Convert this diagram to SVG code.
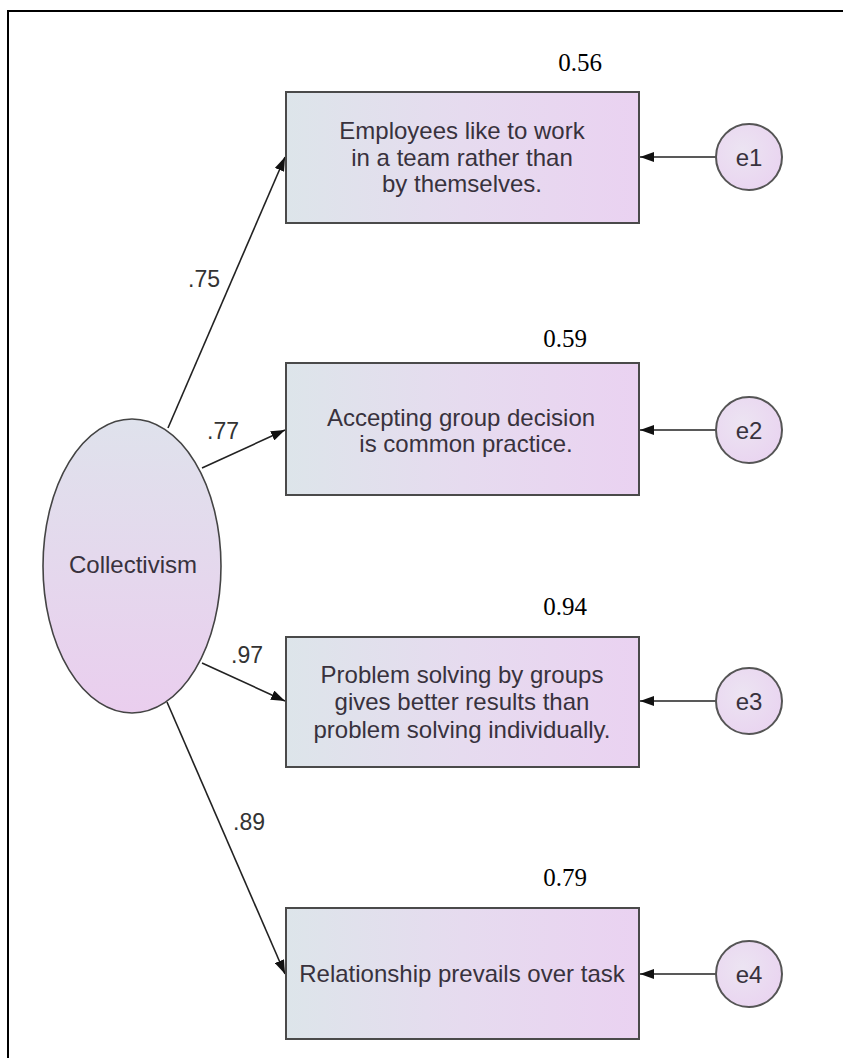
<svg xmlns="http://www.w3.org/2000/svg" width="843" height="1058" viewBox="0 0 843 1058">
  <defs>
    <linearGradient id="boxFill" x1="0" y1="0" x2="1" y2="0">
      <stop offset="0" stop-color="#dde5ea"/>
      <stop offset="0.5" stop-color="#e6dbef"/>
      <stop offset="1" stop-color="#ead2f1"/>
    </linearGradient>
    <linearGradient id="ovalFill" x1="0" y1="0" x2="0" y2="1">
      <stop offset="0" stop-color="#dfe2ec"/>
      <stop offset="1" stop-color="#eaceee"/>
    </linearGradient>
    <radialGradient id="errFill" cx="0.4" cy="0.4" r="0.7">
      <stop offset="0" stop-color="#ece4f2"/>
      <stop offset="1" stop-color="#e9d3f0"/>
    </radialGradient>
    <marker id="arrow" viewBox="0 0 14 10" refX="14" refY="5" markerWidth="14" markerHeight="10" markerUnits="userSpaceOnUse" orient="auto">
      <path d="M0,0 L14,5 L0,10 z" fill="#111"/>
    </marker>
    <style>
      .box { fill: url(#boxFill); stroke: #4a4a4a; stroke-width: 2; }
      .err { fill: url(#errFill); stroke: #555; stroke-width: 2; }
      .lat { fill: url(#ovalFill); stroke: #444; stroke-width: 1.6; }
      .lbl { font-family: "Liberation Sans", Arial, sans-serif; font-size: 24px; fill: #38323d; text-anchor: middle; }
      .coef { font-family: "Liberation Sans", Arial, sans-serif; font-size: 23px; fill: #333; text-anchor: middle; }
      .r2 { font-family: "Liberation Serif", "Times New Roman", serif; font-size: 25px; fill: #000; text-anchor: middle; }
      .path { stroke: #222; stroke-width: 1.6; fill: none; marker-end: url(#arrow); }
    </style>
  </defs>

  <rect x="0" y="0" width="843" height="1058" fill="#fff"/>
  <!-- frame -->
  <path d="M8,1058 V11 H843" fill="none" stroke="#000" stroke-width="2"/>

  <g id="connectors">
    <line class="path" x1="168" y1="428" x2="285" y2="157"/>
    <line class="path" x1="202" y1="468" x2="285" y2="430"/>
    <line class="path" x1="202" y1="663" x2="285" y2="701"/>
    <line class="path" x1="167" y1="702" x2="285" y2="974"/>
    <line class="path" x1="716" y1="157" x2="640" y2="157"/>
    <line class="path" x1="716" y1="430" x2="640" y2="430"/>
    <line class="path" x1="716" y1="701" x2="640" y2="701"/>
    <line class="path" x1="716" y1="974" x2="640" y2="974"/>
    <text class="coef" x="204" y="287">.75</text>
    <text class="coef" x="223" y="439">.77</text>
    <text class="coef" x="247" y="663">.97</text>
    <text class="coef" x="249" y="830">.89</text>
  </g>

  <g id="collectivism">
    <ellipse class="lat" cx="132" cy="566" rx="89" ry="147"/>
    <text class="lbl" x="133" y="573">Collectivism</text>
  </g>

  <g id="item1">
    <rect class="box" x="286" y="92" width="353" height="131"/>
    <text class="lbl" x="462" y="139">Employees like to work</text>
    <text class="lbl" x="462" y="166">in a team rather than</text>
    <text class="lbl" x="462" y="192">by themselves.</text>
    <text class="r2" x="580" y="71">0.56</text>
  </g>

  <g id="item2">
    <rect class="box" x="286" y="363" width="353" height="132"/>
    <text class="lbl" x="461" y="426">Accepting group decision</text>
    <text class="lbl" x="466" y="452">is common practice.</text>
    <text class="r2" x="565" y="347">0.59</text>
  </g>

  <g id="item3">
    <rect class="box" x="286" y="637" width="353" height="130"/>
    <text class="lbl" x="462" y="683">Problem solving by groups</text>
    <text class="lbl" x="462" y="710">gives better results than</text>
    <text class="lbl" x="462" y="738">problem solving individually.</text>
    <text class="r2" x="565" y="615">0.94</text>
  </g>

  <g id="item4">
    <rect class="box" x="286" y="908" width="353" height="131"/>
    <text class="lbl" x="462" y="982">Relationship prevails over task</text>
    <text class="r2" x="565" y="886">0.79</text>
  </g>

  <g id="e1">
    <circle class="err" cx="749" cy="157" r="33"/>
    <text class="lbl" x="749" y="166">e1</text>
  </g>
  <g id="e2">
    <circle class="err" cx="749" cy="430" r="33"/>
    <text class="lbl" x="749" y="439">e2</text>
  </g>
  <g id="e3">
    <circle class="err" cx="749" cy="701" r="33"/>
    <text class="lbl" x="749" y="710">e3</text>
  </g>
  <g id="e4">
    <circle class="err" cx="749" cy="974" r="33"/>
    <text class="lbl" x="749" y="983">e4</text>
  </g>
</svg>
